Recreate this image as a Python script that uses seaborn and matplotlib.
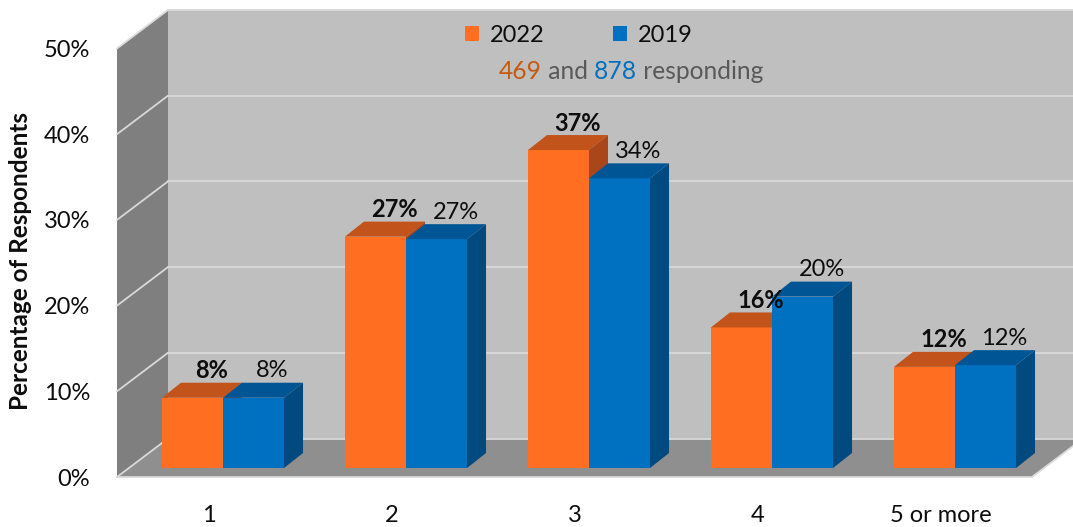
import numpy as np
import pandas as pd
import matplotlib
matplotlib.use("Agg")
import matplotlib.pyplot as plt
import seaborn as sns
from matplotlib.patches import Polygon, Patch
from matplotlib.lines import Line2D
from matplotlib.transforms import IdentityTransform

# ---------------- data ----------------
categories = ["1", "2", "3", "4", "5 or more"]
years = ["2022", "2019"]
values_2022 = [8.2, 27.0, 37.1, 16.4, 11.8]
values_2019 = [8.2, 26.7, 33.8, 20.0, 12.0]
y_ticks = [0, 10, 20, 30, 40, 50]
y_tick_labels = ["0%", "10%", "20%", "30%", "40%", "50%"]
n_2022 = 469
n_2019 = 878

# ---------------- style ----------------
ORANGE = "#FF6E21"
ORANGE_TOP = "#C2531B"
ORANGE_SIDE = "#A9471A"
BLUE = "#0070C0"
BLUE_TOP = "#005595"
BLUE_SIDE = "#004A80"
BACK_WALL = "#BFBFBF"
SIDE_WALL = "#7F7F7F"
FLOOR = "#8F8F8F"
GRID = "#D9D9D9"
TEXT = "#0D0D0D"

sns.set_theme(style="white")
plt.rcParams["font.family"] = ["Lato", "DejaVu Sans"]

W, H = 1073, 527
fig = plt.figure(figsize=(W / 100, H / 100), dpi=100)

# bar plane (pixels from top-left)
PX_L, PX_R, PX_T, PX_B = 131.5, 1046.5, 39.5, 468.0
FRONT = (-14.5, -9.0)   # offset of front plane of the walls (display px)
BACK = (36.5, 29.5)     # offset of back wall
DEPTH = (19.0, 15.0)    # bar depth


def rect(dx, dy):
    return [(PX_L + dx) / W, (H - PX_B + dy) / H, (PX_R - PX_L) / W, (PX_B - PX_T) / H]


ax_front = fig.add_axes(rect(*FRONT), zorder=0)
ax = fig.add_axes(rect(0, 0), zorder=1)
for a in (ax_front, ax):
    a.set_xlim(-0.5, len(categories) - 0.5)
    a.set_ylim(y_ticks[0], y_ticks[-1])

df = pd.DataFrame({
    "category": categories * 2,
    "year": [years[0]] * len(categories) + [years[1]] * len(categories),
    "value": values_2022 + values_2019,
})

sns.barplot(data=df, x="category", y="value", hue="year", order=categories,
            hue_order=years, palette=[ORANGE, BLUE], width=0.667, saturation=1,
            errorbar=None, legend=False, linewidth=0, edgecolor="none", ax=ax)
ax.set_xlim(-0.5, len(categories) - 0.5)
ax.set_ylim(y_ticks[0], y_ticks[-1])
ax.set_axis_off()


def disp(x, y, off):
    p = ax.transData.transform((x, y))
    return (p[0] + off[0], p[1] + off[1])


x_lo, x_hi = -0.5, len(categories) - 0.5
y_top = y_ticks[-1]
ident = IdentityTransform()

# ---- walls & floor ----
walls = [
    ([disp(x_lo, 0, BACK), disp(x_hi, 0, BACK), disp(x_hi, y_top, BACK), disp(x_lo, y_top, BACK)], BACK_WALL),
    ([disp(x_lo, 0, FRONT), disp(x_lo, y_top, FRONT), disp(x_lo, y_top, BACK), disp(x_lo, 0, BACK)], SIDE_WALL),
    ([disp(x_lo, 0, FRONT), disp(x_hi, 0, FRONT), disp(x_hi, 0, BACK), disp(x_lo, 0, BACK)], FLOOR),
]
for pts, col in walls:
    ax_front.add_patch(Polygon(pts, closed=True, transform=ident, facecolor=col,
                               edgecolor="none", zorder=0.1, clip_on=False))

segments = []
for v in y_ticks:
    segments.append((disp(x_lo, v, BACK), disp(x_hi, v, BACK)))
    segments.append((disp(x_lo, v, FRONT), disp(x_lo, v, BACK)))
segments.append((disp(x_lo, 0, FRONT), disp(x_hi, 0, FRONT)))
segments.append((disp(x_hi, 0, FRONT), disp(x_hi, 0, BACK)))
for p0, p1 in segments:
    ax_front.add_line(Line2D([p0[0], p1[0]], [p0[1], p1[1]], transform=ident,
                             color=GRID, lw=1.3, zorder=0.2, clip_on=False))

# ---- 3D faces of bars + labels ----
face_cols = [(ORANGE_TOP, ORANGE_SIDE), (BLUE_TOP, BLUE_SIDE)]
for ci, cont in enumerate(ax.containers):
    z = 2 + ci
    top_c, side_c = face_cols[ci]
    for bar in cont:
        bar.set_zorder(z)
        x0 = bar.get_x()
        x1 = x0 + bar.get_width()
        h = bar.get_height()
        top = [disp(x0, h, (0, 0)), disp(x1, h, (0, 0)), disp(x1, h, DEPTH), disp(x0, h, DEPTH)]
        side = [disp(x1, 0, (0, 0)), disp(x1, h, (0, 0)), disp(x1, h, DEPTH), disp(x1, 0, DEPTH)]
        ax.add_patch(Polygon(top, closed=True, transform=ident, facecolor=top_c,
                             edgecolor="none", zorder=z + 0.1, clip_on=False))
        ax.add_patch(Polygon(side, closed=True, transform=ident, facecolor=side_c,
                             edgecolor="none", zorder=z + 0.1, clip_on=False))
        ax.annotate(f"{round(h)}%", xy=(x0 + bar.get_width() / 2, h), xytext=(19, 27),
                    textcoords="offset pixels", ha="center", va="center",
                    fontsize=17, color=TEXT,
                    fontweight="bold" if ci == 0 else "normal", zorder=5)

# ---- axes text ----
ax_front.patch.set_visible(False)
for s in ax_front.spines.values():
    s.set_visible(False)
ax_front.set_yticks(y_ticks, y_tick_labels)
ax_front.set_xticks(range(len(categories)), categories)
ax_front.tick_params(axis="y", length=0, pad=19.4, labelsize=17, labelcolor=TEXT)
ax_front.tick_params(axis="x", length=0, pad=20, labelsize=17, labelcolor=TEXT)
ax_front.grid(False)
ax_front.set_ylabel("Percentage of Respondents", fontsize=17.5, fontweight="bold", color=TEXT)
ax_front.yaxis.set_label_coords(-0.093, 0.504)

# ---- legend ----
handles = [Patch(facecolor=ORANGE, edgecolor="none", label=years[0]),
           Patch(facecolor=BLUE, edgecolor="none", label=years[1])]
fig.legend(handles=handles, ncol=2, frameon=False, loc="center",
           bbox_to_anchor=(579 / W, 1 - 35 / H), fontsize=17,
           handlelength=0.6, handleheight=0.6, handletextpad=0.45,
           columnspacing=2.9, labelcolor=TEXT)

# ---- subtitle ----
t1 = fig.text(499 / W, 1 - 83 / H, f"{n_2022}", color="#C55A11", fontsize=17.7, va="bottom")
t2 = ax.annotate(" and ", xy=(1, 0), xycoords=t1, va="bottom", ha="left",
                 color="#595959", fontsize=17.7)
t3 = ax.annotate(f"{n_2019}", xy=(1, 0), xycoords=t2, va="bottom", ha="left",
                 color="#0070C0", fontsize=17.7)
t4 = ax.annotate(" responding", xy=(1, 0), xycoords=t3, va="bottom", ha="left",
                 color="#595959", fontsize=17.7)

fig.savefig("out.png", dpi=100)
